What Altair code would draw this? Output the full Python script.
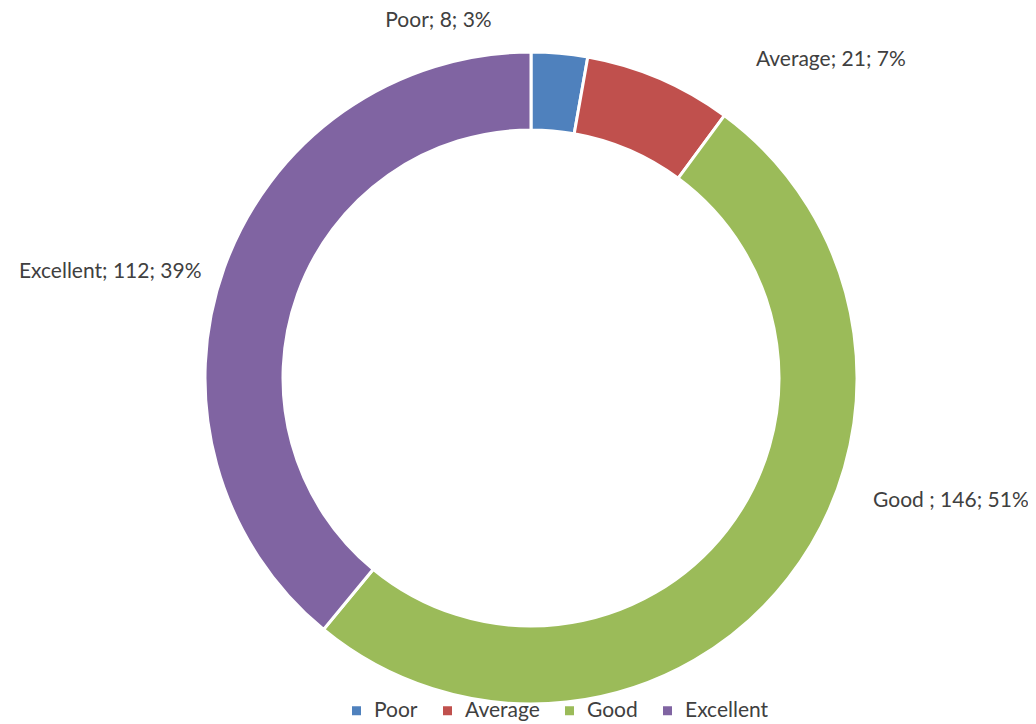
import altair as alt
import pandas as pd

categories = ["Poor", "Average", "Good", "Excellent"]
counts = [8, 21, 146, 112]
label_texts = ["Poor; 8; 3%", "Average; 21; 7%", "Good ; 146; 51%", "Excellent; 112; 39%"]
colors = ["#4F81BD", "#C0504D", "#9BBB59", "#8064A2"]

df = pd.DataFrame({
    "category": categories,
    "count": counts,
    "order": list(range(len(categories))),
    "label": label_texts,
})

CX, CY = 523, 370
FONT = "Lato"
TXT = "#404040"
FS = 21

base = alt.Chart(df).encode(
    theta=alt.Theta("count:Q", stack=True),
    order=alt.Order("order:Q"),
    x=alt.value(CX),
    y=alt.value(CY),
)

arcs = base.mark_arc(outerRadius=326, innerRadius=248, stroke="white", strokeWidth=3).encode(
    color=alt.Color(
        "category:N",
        scale=alt.Scale(domain=categories, range=colors),
        legend=alt.Legend(
            title=None,
            orient="none",
            legendX=338,
            legendY=692,
            direction="horizontal",
            columns=4,
            symbolType="square",
            symbolSize=81,
            symbolStrokeWidth=0,
            labelFontSize=FS,
            labelFont=FONT,
            labelColor=TXT,
            columnPadding=19,
            labelOffset=7,
        ),
    )
)

offsets = {
    "Poor": (-124, 2),
    "Average": (158, 13),
    "Good": (136, -98),
    "Excellent": (-82, 16),
}

layers = [arcs]
for c in categories:
    dx, dy = offsets[c]
    layers.append(
        base.mark_text(
            radius=360, fontSize=FS, font=FONT, color=TXT,
            align="center", baseline="middle", dx=dx, dy=dy,
        ).encode(
            text=alt.condition(f"datum.category == '{c}'", "label:N", alt.value(""))
        )
    )

chart = alt.layer(*layers).properties(
    width=1020, height=714, padding=0,
    autosize=alt.AutoSizeParams(type="none"),
).configure_view(stroke=None)

chart.save("out.html", embed_options={"renderer": "svg", "actions": False})
